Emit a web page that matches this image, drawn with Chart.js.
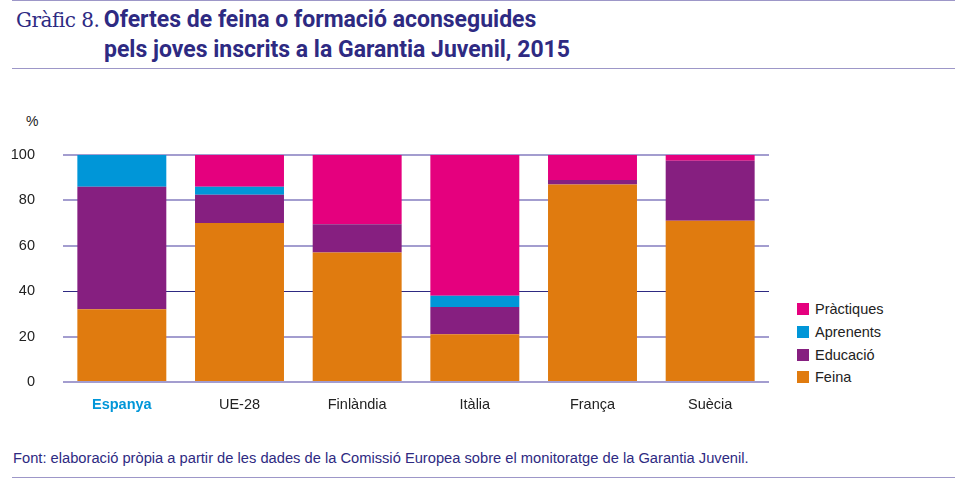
<!DOCTYPE html>
<html>
<head>
<meta charset="utf-8">
<script src="https://cdn.jsdelivr.net/npm/chart.js@4"></script>
<style>
  body { margin: 0; background: #fff; width: 959px; height: 501px; overflow: hidden; position: relative; font-family: "Liberation Sans", Arial, sans-serif; }
  .rule { position: absolute; left: 12px; right: 4px; height: 1px; background: #9d97c8; }
  #title1 { position: absolute; left: 16px; top: 6px; color: #2e2a82; white-space: nowrap; }
  #title1 .num { font-family: "DejaVu Serif", serif; font-size: 20px; letter-spacing: -0.5px; }
  #title1 .bold, #title2 { font-family: Roboto, sans-serif; font-weight: 700; font-size: 23px; }
  #title2 { position: absolute; left: 104px; top: 36px; color: #2e2a82; white-space: nowrap; }
  #pct { position: absolute; left: 26px; top: 113px; font-size: 14px; color: #222; }
  #chart { position: absolute; left: 0; top: 110px; }
  #legend { position: absolute; left: 797px; top: 298px; font-size: 14.5px; color: #222; }
  #legend div { height: 22.7px; display: flex; align-items: center; }
  #legend span.sw { width: 12px; height: 12px; margin-right: 6px; display: inline-block; }
  #source { position: absolute; left: 13px; top: 450px; font-size: 14.7px; color: #2e2a82; white-space: nowrap; }
</style>
</head>
<body>
<div class="rule" style="top:0px"></div>
<div id="title1"><span class="num">Gràfic 8.</span> <span class="bold">Ofertes de feina o formació aconseguides</span></div>
<div id="title2">pels joves inscrits a la Garantia Juvenil, 2015</div>
<div class="rule" style="top:68px"></div>
<div id="pct">%</div>
<canvas id="chart" width="780" height="320"></canvas>
<div id="legend"></div>
<div id="source">Font: elaboració pròpia a partir de les dades de la Comissió Europea sobre el monitoratge de la Garantia Juvenil.</div>
<div class="rule" style="top:477px"></div>

<script>
// Data
const countries = ["Espanya", "UE-28", "Finlàndia", "Itàlia", "França", "Suècia"];
const feina = [32, 70, 57, 21, 87, 71];
const educacio = [54, 12.5, 12.5, 12, 2, 26.5];
const aprenents = [14, 3.5, 0, 5, 0, 0];
const practiques = [0, 14, 30.5, 62, 11, 2.5];
const yTicks = [0, 20, 40, 60, 80, 100];

const colors = {
  feina: "#e07b0f",
  educacio: "#861f80",
  aprenents: "#0096d8",
  practiques: "#e5007e",
};

// Order from bottom to top of the stack
const series = [
  { label: "Feina", data: feina, color: colors.feina },
  { label: "Educació", data: educacio, color: colors.educacio },
  { label: "Aprenents", data: aprenents, color: colors.aprenents },
  { label: "Pràctiques", data: practiques, color: colors.practiques },
];

// Legend (top to bottom = reversed stack)
const legend = document.getElementById("legend");
series.slice().reverse().forEach((s) => {
  const row = document.createElement("div");
  row.innerHTML = `<span class="sw" style="background:${s.color}"></span>${s.label}`;
  legend.appendChild(row);
});

const ctx = document.getElementById("chart").getContext("2d");
new Chart(ctx, {
  type: "bar",
  data: {
    labels: countries,
    datasets: series.map((s) => ({
      label: s.label,
      data: s.data,
      backgroundColor: s.color,
      borderWidth: 0,
      barPercentage: 0.756,
      categoryPercentage: 1,
    })),
  },
  options: {
    responsive: false,
    animation: false,
    layout: { padding: { top: 45, right: 11, left: 0, bottom: 0 } },
    plugins: {
      legend: { display: false },
      tooltip: { enabled: false },
    },
    scales: {
      x: {
        stacked: true,
        grid: { display: false },
        border: { display: false },
        afterFit: (scale) => { scale.height = 48; },
        ticks: {
          padding: 6,
          color: (c) => (c.index === 0 ? "#0096d8" : "#222"),
          font: (c) => ({
            family: "Liberation Sans",
            size: 14.5,
            weight: c.index === 0 ? "bold" : "normal",
          }),
        },
      },
      y: {
        stacked: true,
        min: 0,
        max: 100,
        afterFit: (scale) => { scale.width = 63; },
        afterBuildTicks: (scale) => {
          scale.ticks = yTicks.map((v) => ({ value: v }));
        },
        border: { display: false },
        grid: {
          drawTicks: false,
          color: (c) => (c.tick && c.tick.value === 40 ? "#2e2a82" : "#a39dcf"),
          lineWidth: (c) => (c.tick && c.tick.value === 40 ? 1 : 2),
        },
        ticks: {
          padding: 28,
          color: "#222",
          font: { family: "Liberation Sans", size: 14.5 },
        },
      },
    },
  },
});
</script>
</body>
</html>
